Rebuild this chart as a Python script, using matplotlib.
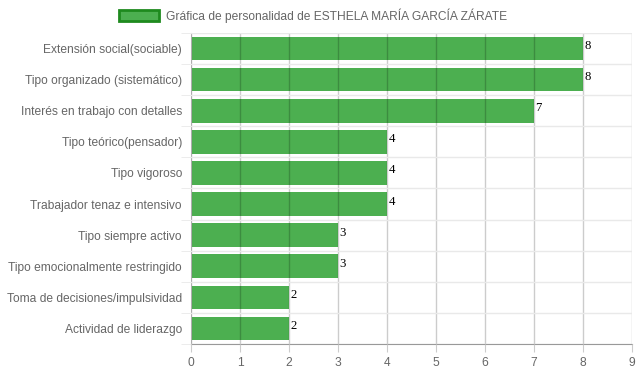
import numpy as np
import matplotlib.pyplot as plt
from matplotlib.patches import Patch

categorias = [
    "Extensión social(sociable)",
    "Tipo organizado (sistemático)",
    "Interés en trabajo con detalles",
    "Tipo teórico(pensador)",
    "Tipo vigoroso",
    "Trabajador tenaz e intensivo",
    "Tipo siempre activo",
    "Tipo emocionalmente restringido",
    "Toma de decisiones/impulsividad",
    "Actividad de liderazgo",
]
valores = [8, 8, 7, 4, 4, 4, 3, 3, 2, 2]
titulo = "Gráfica de personalidad de ESTHELA MARÍA GARCÍA ZÁRATE"

plt.rcParams['font.family'] = ['Liberation Sans', 'DejaVu Sans']
fs = 8.64  # 12px at 100 dpi
verde = '#4caf50'
gris = '#666666'

fig = plt.figure(figsize=(6.39, 3.72), dpi=100)
ax = fig.add_axes([191 / 639, 1 - 344 / 372, 441 / 639, 311 / 372])

y = np.arange(len(categorias))
ax.barh(y, valores, height=0.76, color=verde, zorder=2)
for yi, v in zip(y, valores):
    ax.text(v + 0.03, yi - 0.08, str(v), family='Liberation Serif', fontsize=9.2,
            color='black', va='center', ha='left', zorder=4)

ax.set_xlim(0, 9)
ax.set_ylim(len(categorias) - 0.5, -0.5)
ax.set_xticks(range(10))
ax.set_yticks(y)
ax.set_yticklabels(categorias)
ax.set_yticks(np.arange(-0.5, len(categorias), 1), minor=True)

ax.grid(axis='x', which='major', color='black', alpha=0.2, linewidth=1, zorder=3)
ax.grid(axis='y', which='minor', color='#e9e9e9', alpha=1, linewidth=1, zorder=1)
ax.set_axisbelow(False)

ax.tick_params(axis='x', which='major', length=6, color='#cccccc',
               labelcolor=gris, labelsize=fs, pad=3)
ax.tick_params(axis='y', which='major', length=0, labelcolor=gris,
               labelsize=fs, pad=6.5)
ax.tick_params(axis='y', which='minor', length=7, color='#e9e9e9')

for s in ['top', 'right']:
    ax.spines[s].set_visible(False)
ax.spines['bottom'].set_color('#999999')
ax.spines['left'].set_color('#d9d9d9')

handle = Patch(facecolor=verde, edgecolor='#1e8a1e', linewidth=2)
fig.legend([handle], [titulo], loc='upper center', bbox_to_anchor=(0.49, 1.0),
           frameon=False, fontsize=fs, labelcolor=gris, handlelength=3.3,
           handleheight=1.0, handletextpad=0.6, borderaxespad=0.3)

fig.savefig("out.png", dpi=100)
